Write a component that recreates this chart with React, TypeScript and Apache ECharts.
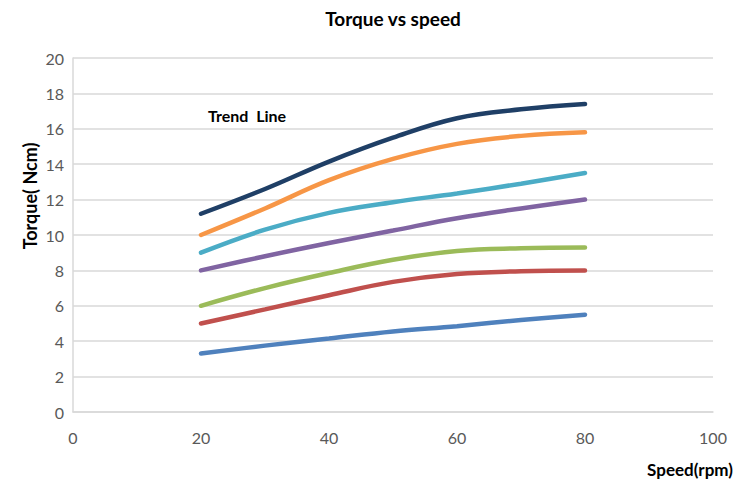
import React, { useEffect, useRef } from "react";
import * as echarts from "echarts";

const speeds = [20, 30, 40, 50, 60, 70, 80];
const navy = [11.2, 12.6, 14.15, 15.5, 16.6, 17.1, 17.4];
const orange = [10.0, 11.5, 13.1, 14.3, 15.15, 15.6, 15.8];
const cyan = [9.0, 10.3, 11.25, 11.85, 12.35, 12.9, 13.5];
const purple = [8.0, 8.8, 9.55, 10.25, 10.95, 11.5, 12.0];
const green = [6.0, 7.0, 7.85, 8.6, 9.1, 9.25, 9.3];
const red = [5.0, 5.8, 6.6, 7.35, 7.8, 7.95, 8.0];
const blue = [3.3, 3.75, 4.15, 4.55, 4.85, 5.2, 5.5];

const seriesList = [
  { name: "s7", data: blue, color: "#4F81BD" },
  { name: "s6", data: red, color: "#C0504D" },
  { name: "s5", data: green, color: "#9BBB59" },
  { name: "s4", data: purple, color: "#8064A2" },
  { name: "s3", data: cyan, color: "#4BACC6" },
  { name: "s2", data: orange, color: "#F79646" },
  { name: "s1", data: navy, color: "#1F3F66" },
];

const FONT = "Lato, 'Open Sans', sans-serif";

export default function App() {
  const ref = useRef<HTMLDivElement>(null);
  useEffect(() => {
    if (!ref.current) return;
    const chart = echarts.init(ref.current, undefined, { renderer: "svg" });
    chart.setOption({
      animation: false,
      backgroundColor: "#ffffff",
      title: {
        text: "Torque vs speed",
        left: 388,
        textAlign: "center",
        top: 4,
        textStyle: { fontFamily: FONT, fontWeight: "bold", fontSize: 19, color: "#000" },
      },
      grid: { left: 73, right: 37, top: 58, bottom: 77, containLabel: false },
      xAxis: {
        type: "value",
        min: 0,
        max: 100,
        interval: 20,
        axisLine: { show: true, lineStyle: { color: "#d9d9d9", width: 1.5 } },
        axisTick: { show: false },
        splitLine: { show: false },
        axisLabel: { color: "#595959", fontSize: 16, fontFamily: FONT, margin: 17 },
      },
      yAxis: {
        type: "value",
        min: 0,
        max: 20,
        interval: 2,
        axisLine: { show: true, lineStyle: { color: "#d9d9d9", width: 1.5 } },
        axisTick: { show: false },
        splitLine: { show: true, lineStyle: { color: "#d9d9d9", width: 1.5 } },
        axisLabel: { color: "#595959", fontSize: 16, fontFamily: FONT, margin: 9 },
      },
      graphic: [
        {
          type: "text",
          x: 208,
          y: 115,
          style: {
            text: "Trend  Line",
            font: `bold 16px ${FONT}`,
            fill: "#000",
            verticalAlign: "middle",
          },
        },
        {
          type: "text",
          x: 30,
          y: 196,
          rotation: Math.PI / 2,
          style: {
            text: "Torque( Ncm)",
            font: `bold 18px ${FONT}`,
            fill: "#000",
            align: "center",
            verticalAlign: "middle",
          },
        },
        {
          type: "text",
          x: 690,
          y: 469,
          style: {
            text: "Speed(rpm)",
            font: `bold 17px ${FONT}`,
            fill: "#000",
            align: "center",
            verticalAlign: "middle",
          },
        },
      ],
      series: seriesList.map((s) => ({
        name: s.name,
        type: "line",
        smooth: 0.4,
        showSymbol: false,
        symbol: "none",
        data: speeds.map((x, i) => [x, s.data[i]]),
        lineStyle: { color: s.color, width: 4.5, cap: "round" },
        itemStyle: { color: s.color },
      })),
    });
    return () => chart.dispose();
  }, []);
  return (
    <div
      ref={ref}
      style={{ position: "fixed", left: 0, top: 0, width: 750, height: 489 }}
    />
  );
}
